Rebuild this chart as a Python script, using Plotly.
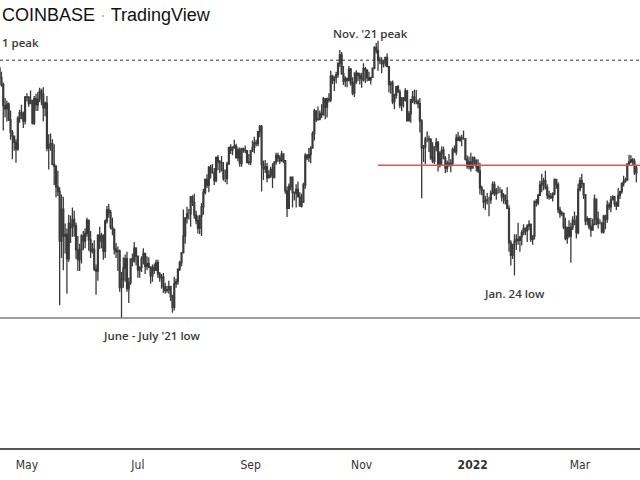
import plotly.graph_objects as go
import pandas as pd

# BTC/USD daily candles, Coinbase, values in thousands of USD
# 14 Apr 2021 -> 1 Apr 2022
start_date = "2021-04-14"
end_date = "2022-04-01"
first_open = 63.58

close_k = [
    # Apr 2021 (from 14th)
    62.95, 63.25, 61.45, 60.10, 56.25, 55.70, 56.50, 53.80, 51.70, 51.10, 50.10, 49.05, 54.05, 55.00, 54.85, 53.55, 57.75,
    # May
    57.80, 56.60, 57.20, 53.25, 57.50, 56.40, 57.40, 58.90, 58.30, 55.85, 56.70, 49.20, 49.70, 49.90, 46.75, 46.45,
    43.55, 42.90, 36.70, 40.60, 37.30, 37.50, 34.70, 38.80, 38.30, 39.30, 38.50, 35.70, 34.60, 35.70, 37.30,
    # Jun
    36.70, 37.60, 39.20, 36.85, 35.55, 35.80, 33.60, 33.40, 37.40, 36.70, 37.30, 35.55, 39.10, 40.50, 40.15,
    38.35, 38.10, 35.80, 35.50, 35.60, 31.70, 32.50, 33.70, 34.70, 31.60, 32.20, 34.70, 34.50, 35.90, 35.00,
    # Jul
    33.50, 33.80, 34.70, 35.30, 33.90, 34.20, 33.80, 32.90, 33.80, 33.50, 34.30, 33.10, 32.70, 32.80, 31.80, 31.40,
    31.50, 31.80, 30.80, 29.80, 32.10, 32.30, 33.60, 34.30, 35.40, 37.30, 39.50, 40.00, 40.00, 42.20, 41.50,
    # Aug
    39.85, 39.15, 38.20, 39.70, 40.90, 42.80, 44.60, 43.80, 46.30, 45.60, 45.60, 44.40, 47.80, 47.10, 47.00, 45.90,
    44.70, 44.70, 46.80, 49.30, 48.90, 49.30, 49.50, 47.70, 48.90, 46.90, 49.10, 48.90, 48.80, 47.00, 47.10,
    # Sep
    48.80, 49.30, 50.00, 49.90, 51.80, 52.70, 46.80, 46.10, 46.40, 44.80, 45.20, 46.00, 44.90, 47.10, 48.10,
    47.70, 47.30, 48.30, 47.30, 43.00, 40.70, 43.60, 44.90, 42.80, 42.70, 43.20, 42.20, 41.00, 41.50, 43.80,
    # Oct
    48.10, 47.70, 48.20, 49.20, 51.50, 55.30, 53.80, 53.90, 54.90, 54.70, 57.50, 56.00, 57.40, 57.30, 61.70, 60.90,
    61.50, 62.00, 64.30, 66.00, 62.20, 60.70, 61.30, 60.90, 63.10, 60.30, 58.50, 60.60, 62.30, 61.90, 61.30,
    # Nov
    61.00, 63.20, 62.90, 61.40, 61.00, 61.50, 63.30, 67.50, 66.90, 64.90, 64.90, 64.20, 64.40, 65.50, 63.60,
    60.10, 60.40, 56.90, 58.10, 59.70, 58.70, 56.30, 57.60, 57.20, 58.90, 53.60, 54.80, 57.30, 57.80, 57.00,
    # Dec
    56.90, 56.60, 53.60, 49.20, 49.40, 50.60, 50.60, 50.50, 47.70, 47.20, 49.40, 50.10, 46.70, 48.40, 48.90, 47.60,
    46.20, 46.90, 46.70, 46.90, 49.00, 48.60, 50.80, 50.40, 50.80, 50.70, 50.70, 47.50, 46.50, 47.10, 46.20,
    # Jan 2022
    47.70, 47.30, 46.40, 45.80, 43.40, 43.10, 41.50, 41.70, 41.80, 41.80, 42.70, 43.90, 42.60, 43.10, 43.10, 43.10,
    42.20, 42.40, 41.70, 40.70, 36.50, 35.10, 36.30, 36.70, 36.90, 36.80, 37.20, 37.70, 38.20, 37.90, 38.50,
    # Feb
    38.70, 36.90, 37.30, 41.60, 41.40, 42.40, 43.80, 44.10, 44.40, 43.50, 42.40, 42.20, 42.10, 42.60,
    44.60, 43.90, 40.50, 40.00, 40.10, 38.40, 37.00, 38.30, 37.30, 38.30, 39.20, 39.10, 37.70, 43.20,
    # Mar
    44.40, 44.00, 42.50, 39.10, 39.40, 38.40, 38.00, 38.70, 41.90, 39.40, 38.80, 38.80, 37.80, 39.70, 39.30, 41.10,
    40.90, 41.80, 42.20, 41.30, 41.00, 42.40, 42.90, 44.00, 44.30, 44.50, 46.80, 47.10, 47.40, 47.10, 45.50,
    # Apr 1
    46.30,
]

high_k = [
    64.85, 63.80, 63.60, 62.60, 60.50, 57.60, 57.10, 56.80, 55.40, 52.10, 51.20, 50.60, 54.40, 55.50, 56.40, 55.20, 58.00,
    58.50, 57.90, 59.00, 57.30, 58.00, 58.40, 58.70, 59.50, 59.30, 59.60, 57.00, 58.00, 51.40, 51.50, 50.60, 49.80,
    46.60, 45.80, 43.50, 42.50, 42.20, 38.80, 38.20, 39.90, 39.80, 40.80, 40.40, 38.90, 37.30, 36.40, 37.50,
    37.90, 38.20, 39.50, 39.30, 37.90, 36.50, 36.80, 34.10, 37.50, 38.40, 37.70, 37.50, 39.30, 41.00, 41.30,
    40.50, 39.50, 38.20, 36.50, 36.10, 35.75, 33.30, 34.90, 35.20, 35.50, 32.70, 34.70, 35.30, 36.60, 36.00,
    35.00, 33.90, 35.00, 35.90, 35.30, 35.00, 34.90, 33.90, 34.10, 34.20, 34.60, 34.60, 33.30, 33.10, 33.20, 32.20,
    31.90, 32.40, 31.90, 31.00, 32.80, 32.60, 33.60, 34.50, 35.40, 40.55, 39.50, 40.90, 40.60, 42.30, 42.40,
    42.60, 40.40, 39.80, 39.90, 41.40, 43.30, 44.70, 45.30, 46.50, 46.70, 46.80, 46.20, 47.90, 48.10, 47.40, 48.00,
    47.10, 46.00, 47.10, 49.40, 49.80, 49.50, 50.50, 49.90, 49.30, 49.30, 49.20, 49.30, 49.60, 48.90, 48.30,
    48.90, 50.40, 51.00, 50.50, 51.90, 52.90, 52.90, 47.30, 47.40, 47.00, 45.90, 46.40, 46.90, 47.20, 48.50,
    48.50, 48.10, 48.80, 48.40, 47.40, 43.60, 44.00, 45.00, 45.00, 42.90, 43.90, 44.30, 42.80, 42.60, 44.10,
    48.40, 48.30, 49.20, 49.50, 51.90, 55.70, 55.30, 56.10, 55.40, 56.50, 57.80, 57.60, 57.70, 58.50, 62.80, 62.00,
    61.70, 62.60, 64.40, 67.00, 66.60, 63.70, 61.70, 61.40, 63.70, 63.30, 61.50, 62.50, 62.90, 62.30, 62.40,
    62.40, 64.30, 63.50, 63.10, 62.60, 61.60, 63.30, 67.80, 68.50, 69.00, 65.60, 65.50, 65.00, 65.50, 66.30,
    63.60, 60.80, 60.90, 58.40, 59.80, 60.00, 59.20, 57.80, 57.80, 59.40, 59.10, 55.30, 57.40, 58.90, 59.20,
    59.10, 57.40, 57.60, 53.90, 49.70, 51.00, 51.90, 51.20, 50.80, 50.10, 49.50, 50.80, 50.30, 48.70, 49.50, 49.40,
    48.00, 47.30, 48.30, 47.50, 49.30, 49.60, 51.40, 51.80, 51.20, 51.30, 52.00, 50.70, 48.10, 47.90, 48.50,
    47.90, 47.90, 47.50, 47.50, 47.00, 43.70, 43.10, 42.30, 42.70, 42.20, 43.10, 44.30, 44.30, 43.40, 43.70, 43.50,
    43.20, 42.70, 42.50, 43.50, 41.10, 36.80, 36.40, 37.50, 37.50, 38.90, 37.20, 38.00, 38.70, 38.30, 38.70,
    39.20, 38.80, 37.40, 41.70, 41.90, 42.60, 44.40, 45.40, 44.80, 45.80, 43.90, 43.00, 42.70, 42.80,
    44.70, 44.60, 44.20, 40.90, 40.40, 40.10, 39.50, 38.40, 39.20, 38.90, 39.70, 40.30, 39.80, 44.00,
    44.90, 45.40, 44.10, 42.50, 39.70, 39.40, 39.50, 39.40, 42.50, 41.90, 40.30, 39.30, 39.00, 39.90, 39.90, 41.70,
    41.50, 42.30, 42.40, 42.30, 41.60, 43.40, 43.00, 44.20, 45.10, 44.80, 46.90, 48.20, 48.10, 47.70, 47.60,
    46.70,
]

low_k = [
    61.30, 62.10, 60.00, 59.70, 52.00, 54.20, 53.50, 53.60, 50.50, 47.50, 48.80, 47.00, 48.80, 53.30, 53.90, 52.40, 53.00,
    57.00, 56.05, 56.50, 53.00, 52.90, 55.30, 55.30, 56.90, 56.30, 53.50, 54.40, 48.70, 46.00, 48.80, 46.60, 43.80,
    42.10, 42.30, 30.00, 34.80, 33.50, 35.30, 31.10, 34.40, 36.50, 37.20, 37.20, 34.70, 33.40, 33.40, 34.20,
    35.70, 35.90, 37.20, 35.60, 34.80, 35.30, 33.40, 31.00, 32.40, 35.80, 35.90, 34.60, 34.80, 38.80, 39.50,
    38.10, 37.40, 35.20, 34.80, 33.40, 31.30, 28.80, 31.70, 32.30, 31.30, 30.20, 32.00, 33.90, 34.30, 34.00,
    32.70, 32.70, 33.30, 34.10, 33.10, 33.50, 33.70, 32.10, 32.30, 33.10, 33.40, 32.70, 32.30, 31.60, 31.20, 31.10,
    31.20, 31.10, 30.40, 29.30, 29.50, 31.70, 32.00, 33.40, 33.90, 35.30, 36.40, 38.80, 39.30, 38.40, 41.00,
    39.40, 38.70, 37.60, 37.50, 37.30, 39.90, 42.50, 43.40, 42.80, 44.70, 45.40, 43.80, 44.20, 45.90, 45.50, 45.70,
    44.40, 44.20, 43.90, 46.70, 48.30, 48.10, 49.10, 47.60, 47.20, 46.40, 46.40, 48.50, 48.40, 46.90, 46.70,
    46.60, 48.60, 48.40, 49.50, 49.50, 50.90, 42.90, 44.50, 45.50, 44.20, 44.80, 44.80, 43.40, 44.70, 46.70,
    47.10, 46.80, 47.10, 46.90, 42.60, 39.60, 40.60, 43.10, 40.80, 41.70, 40.80, 42.10, 40.90, 40.80, 41.40,
    43.30, 47.40, 47.10, 46.90, 49.10, 50.40, 53.40, 53.70, 53.70, 54.10, 54.50, 53.90, 54.20, 56.80, 56.90, 60.20,
    58.90, 60.30, 61.40, 63.50, 62.00, 60.00, 59.70, 59.60, 60.70, 59.90, 58.10, 57.80, 60.20, 60.80, 60.10,
    59.50, 60.70, 60.40, 60.70, 60.80, 60.10, 61.40, 63.10, 66.30, 62.80, 64.10, 62.30, 63.40, 63.60, 63.50,
    58.60, 58.40, 56.50, 55.60, 57.50, 58.60, 55.80, 55.30, 55.90, 57.00, 53.60, 53.60, 53.30, 56.70, 56.50,
    56.50, 55.80, 51.70, 42.00, 47.10, 46.80, 50.10, 48.60, 47.40, 46.90, 46.80, 48.70, 45.70, 46.30, 46.60, 47.50,
    45.50, 45.60, 46.40, 45.60, 46.60, 48.50, 48.10, 50.40, 50.20, 49.50, 50.50, 47.30, 46.10, 46.00, 45.70,
    46.20, 46.70, 45.70, 45.50, 42.50, 42.40, 40.70, 40.50, 41.20, 39.70, 41.30, 42.50, 42.30, 41.80, 42.60, 42.70,
    41.60, 41.30, 41.20, 40.60, 35.50, 34.00, 34.70, 32.95, 35.70, 36.30, 35.50, 36.20, 37.40, 37.40, 36.60,
    38.00, 36.60, 36.30, 36.90, 40.90, 41.10, 42.40, 42.80, 43.10, 43.20, 41.90, 41.80, 41.90, 41.60,
    42.40, 43.30, 40.10, 39.50, 39.70, 38.10, 36.80, 36.40, 37.10, 34.30, 38.00, 38.60, 37.00, 37.50,
    42.90, 43.40, 41.90, 38.60, 38.60, 38.10, 37.20, 38.00, 38.60, 38.60, 38.20, 38.70, 37.60, 37.60, 38.10, 38.90,
    40.50, 40.20, 41.70, 40.90, 40.50, 41.00, 41.90, 42.60, 43.60, 44.10, 44.40, 46.70, 46.90, 46.50, 45.20,
    44.20,
]

# reference levels drawn on the chart (thousands USD)
apr_peak_level = 64.9
summer_low_level = 28.8
resistance_level = 46.6
resistance_from = "2021-11-10"

tick_dates = ["2021-05-01", "2021-07-01", "2021-09-01", "2021-11-01", "2022-01-01", "2022-03-01"]
tick_labels = ["May", "Jul", "Sep", "Nov", "<b>2022</b>", "Mar"]


def draw_figure():
    dates = pd.date_range(start_date, end_date, freq="D")
    # 24/7 market: each day opens where the previous one closed
    open_k = [first_open] + close_k[:-1]

    candle_col = "#3a3a3a"
    fig = go.Figure()
    fig.add_trace(go.Candlestick(
        x=dates, open=open_k, high=high_k, low=low_k, close=close_k,
        increasing=dict(line=dict(color=candle_col, width=1.3), fillcolor=candle_col),
        decreasing=dict(line=dict(color=candle_col, width=1.3), fillcolor=candle_col),
        whiskerwidth=0, showlegend=False, hoverinfo="skip"))

    fig.add_hline(y=apr_peak_level, line=dict(color="#333", width=1, dash="dot"))
    fig.add_hline(y=summer_low_level, line=dict(color="#808080", width=1.5))
    fig.add_shape(type="line", xref="x", yref="y", x0=resistance_from, x1="2022-04-05",
                  y0=resistance_level, y1=resistance_level,
                  line=dict(color="#e0525a", width=1.5))

    lab_font = dict(family="Open Sans, Liberation Sans, sans-serif", size=11.5, color="#3a3a3a", weight=600)
    fig.add_annotation(text="COINBASE <span style='color:#b8b8b8'>·</span> TradingView",
                       xref="paper", yref="paper", x=0, y=0.967, xanchor="left", yanchor="middle",
                       showarrow=False, font=dict(family="Liberation Sans, Arial", size=18, color="#111"))
    fig.add_annotation(text="1 peak", xref="paper", yref="paper", x=0, y=0.906,
                       xanchor="left", yanchor="middle", showarrow=False, font=lab_font)
    fig.add_annotation(text="Nov. '21 peak", xref="x", yref="paper", x="2021-11-06", y=0.926,
                       xanchor="center", yanchor="middle", showarrow=False, font=lab_font)
    fig.add_annotation(text="June - July '21 low", xref="x", yref="paper", x="2021-07-09", y=0.252,
                       xanchor="center", yanchor="middle", showarrow=False, font=lab_font)
    fig.add_annotation(text="Jan. 24 low", xref="x", yref="paper", x="2022-01-24", y=0.344,
                       xanchor="center", yanchor="middle", showarrow=False, font=lab_font)

    fig.update_layout(
        width=640, height=480,
        margin=dict(l=0, r=0, t=0, b=32),
        paper_bgcolor="white", plot_bgcolor="white",
        xaxis=dict(range=["2021-04-16 05:00", "2022-04-03"], rangeslider=dict(visible=False),
                   tickvals=tick_dates, ticktext=tick_labels, showgrid=False, zeroline=False,
                   showline=True, linecolor="#555", linewidth=2, ticks="", ticklabelstandoff=5,
                   tickfont=dict(family="Liberation Sans Narrow, DejaVu Sans Condensed, Roboto", size=12,
                                 color="#333")),
        yaxis=dict(type="log", range=[1.2817, 1.8946], visible=False, showgrid=False),
    )
    # drop the browser's default 8px body margin so the chart sits flush in the window
    fig.write_html("out.html", config={"displayModeBar": False},
                   post_script="document.body.style.margin='0px';")


draw_figure()
